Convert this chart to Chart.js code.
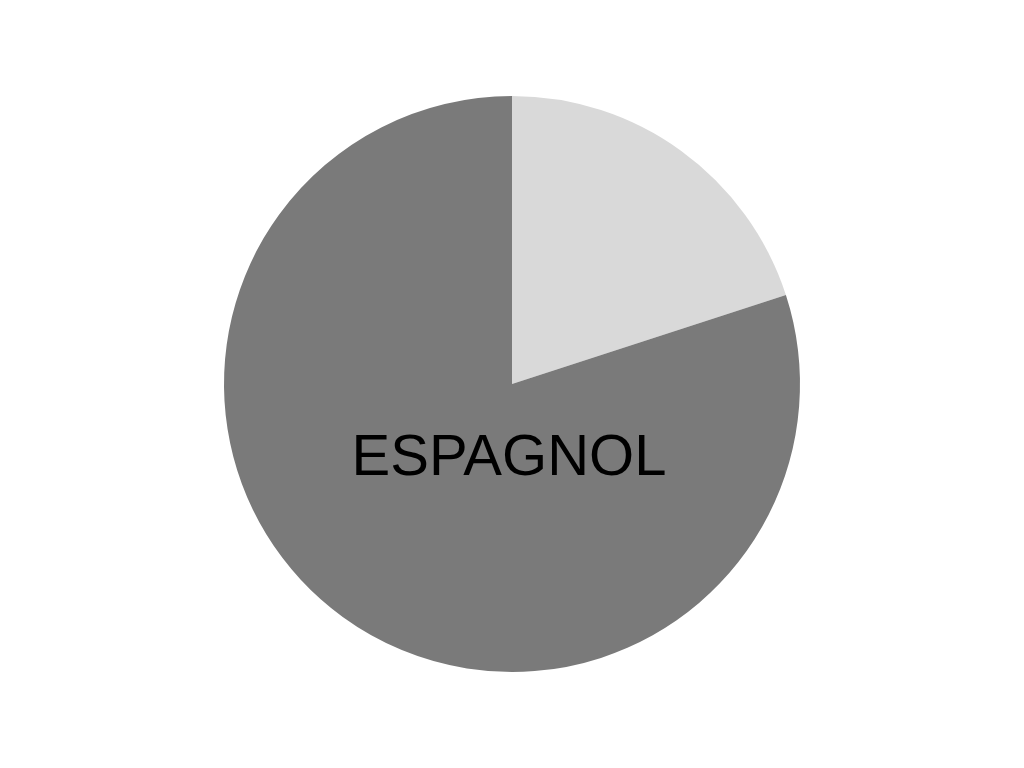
<!DOCTYPE html>
<html>
<head>
<meta charset="utf-8">
<script src="https://cdn.jsdelivr.net/npm/chart.js@4"></script>
<style>
  html, body { margin: 0; padding: 0; background: #fff; }
  #wrap { width: 1024px; height: 768px; }
</style>
</head>
<body>
<div id="wrap"><canvas id="chart" width="1024" height="768"></canvas></div>
<script>
(() => {
'use strict';

const labels = ['', 'ESPAGNOL'];
const values = [20, 80];
const colors = ['#d9d9d9', '#7a7a7a'];

// draws the slice label inside the large slice, below the centre
const sliceLabel = {
    id: 'sliceLabel',
    afterDatasetsDraw(chart) {
        const arc = chart.getDatasetMeta(0).data[1];
        if (!arc) return;
        const ctx = chart.ctx;
        ctx.save();
        ctx.fillStyle = '#000';
        ctx.font = '58px "Liberation Sans", Arial, sans-serif';
        ctx.textAlign = 'center';
        ctx.textBaseline = 'middle';
        ctx.fillText(labels[1], arc.x - 3, arc.y + arc.outerRadius * 0.26);
        ctx.restore();
    }
};

new Chart(document.getElementById('chart').getContext('2d'), {
    type: 'pie',
    data: {
        labels: labels,
        datasets: [{
            data: values,
            backgroundColor: colors,
            borderWidth: 0
        }]
    },
    options: {
        responsive: false,
        animation: false,
        layout: { padding: { top: 96, bottom: 96 } },
        plugins: {
            legend: { display: false },
            tooltip: { enabled: false }
        }
    },
    plugins: [sliceLabel]
});
})();
</script>
</body>
</html>
